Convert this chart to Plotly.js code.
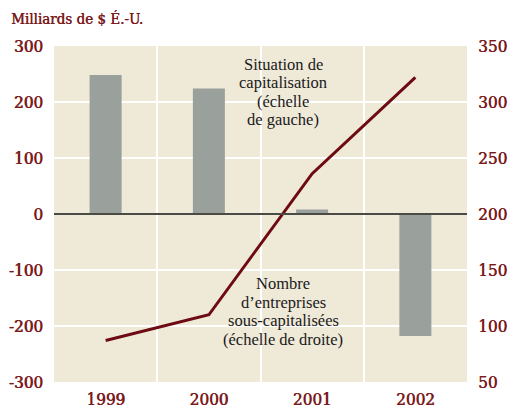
<!DOCTYPE html>
<html>
<head>
<meta charset="utf-8">
<script src="https://cdn.plot.ly/plotly-3.0.1.min.js"></script>
<style>
html,body{margin:0;padding:0;background:#fff;}
#chart{width:511px;height:410px;}
</style>
</head>
<body>
<div id="chart"></div>
<script>
// Data
var years = ['1999', '2000', '2001', '2002'];
var capitalisation = [248, 224, 8, -218];          // left scale, billions US$
var sousCapitalisees = [87, 110, 236, 322];        // right scale, number of firms
var leftTicks = [-300, -200, -100, 0, 100, 200, 300];
var rightTicks = [50, 100, 150, 200, 250, 300, 350];

var red = '#7a1a1c';
var tickFont = {family: 'DejaVu Serif Condensed, DejaVu Serif, serif', size: 17, color: red,
                shadow: '0.6px 0 0 #7a1a1c'};
var noteFont = {family: 'Liberation Serif, serif', size: 16.5, color: '#1a1a1a'};

var traces = [
  {
    type: 'bar', x: years, y: capitalisation,
    xaxis: 'x', yaxis: 'y',
    width: 0.31,
    marker: {color: '#9aa09c', line: {width: 0}},
    hoverinfo: 'skip'
  },
  {
    type: 'scatter', mode: 'lines', x: years, y: sousCapitalisees,
    xaxis: 'x', yaxis: 'y2',
    line: {color: '#6e0b12', width: 3},
    hoverinfo: 'skip'
  }
];

// Annotation text lines
var note1 = ['Situation de', 'capitalisation', '(échelle', 'de gauche)'];
var note1Y = [64, 82.5, 101, 119.5];
var note2 = ['Nombre', 'd\u2019entreprises', 'sous-capitalisées', '(échelle de droite)'];
var note2Y = [283.5, 302, 320.5, 339.5];

var plotTop = 45.7, plotBottom = 381.7, plotLeft = 54, plotRight = 467;
function py(y){ return (plotBottom - y) / (plotBottom - plotTop); }
function px(x){ return (x - plotLeft) / (plotRight - plotLeft); }

var annotations = [];
note1.forEach(function(t, i){
  annotations.push({text: t, xref: 'paper', yref: 'paper', x: px(283), y: py(note1Y[i]),
    xanchor: 'center', yanchor: 'middle', showarrow: false, font: noteFont});
});
note2.forEach(function(t, i){
  annotations.push({text: t, xref: 'paper', yref: 'paper', x: px(283), y: py(note2Y[i]),
    xanchor: 'center', yanchor: 'middle', showarrow: false, font: noteFont});
});

var layout = {
  width: 511, height: 410,
  paper_bgcolor: '#ffffff',
  plot_bgcolor: '#efe9d8',
  margin: {l: plotLeft, r: 511 - plotRight, t: plotTop, b: 410 - plotBottom, pad: 0},
  showlegend: false,
  title: {
    text: 'Milliards de $ É.-U.',
    x: 11 / 511, xref: 'container', xanchor: 'left',
    y: 1 - 19 / 410, yref: 'container', yanchor: 'middle',
    font: {family: 'DejaVu Serif Condensed, DejaVu Serif, serif', size: 15, color: red,
           shadow: '0.4px 0 0 #7a1a1c'}
  },
  xaxis: {
    type: 'category',
    categoryorder: 'array', categoryarray: years,
    range: [-0.5, 3.5],
    tickson: 'boundaries',
    ticks: '',
    showgrid: true, gridcolor: '#ffffff', gridwidth: 2,
    showline: false, zeroline: false,
    tickfont: tickFont,
    ticklabelstandoff: 5,
    fixedrange: true
  },
  yaxis: {
    range: [-300, 300],
    tickvals: leftTicks,
    ticktext: leftTicks.map(String),
    ticks: '',
    showgrid: true, gridcolor: '#ffffff', gridwidth: 2,
    zeroline: true, zerolinecolor: '#4b4b46', zerolinewidth: 1.5,
    zerolinelayer: 'above traces',
    showline: false,
    tickfont: tickFont,
    ticklabelstandoff: 10,
    fixedrange: true
  },
  yaxis2: {
    overlaying: 'y', side: 'right',
    range: [50, 350],
    tickvals: rightTicks,
    ticktext: rightTicks.map(String),
    ticks: '',
    showgrid: false, zeroline: false, showline: false,
    tickfont: tickFont,
    ticklabelstandoff: 10,
    fixedrange: true
  },
  annotations: annotations
};

Plotly.newPlot('chart', traces, layout, {displayModeBar: false, staticPlot: true});
</script>
</body>
</html>
